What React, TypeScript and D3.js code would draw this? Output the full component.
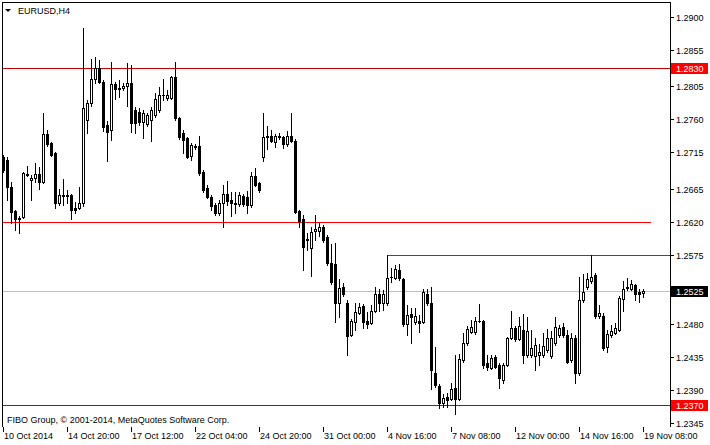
import React from "react";
import * as d3 from "d3";

const openP = [1.2708,1.2704,1.2667,1.2635,1.2624,1.2626,1.2684,1.2677,1.2680,1.2685,1.2674,1.2740,1.2728,1.2714,1.2646,1.2655,1.2655,1.2656,1.2639,1.2639,1.2646,1.2759,1.2782,1.2815,1.2830,1.2811,1.2752,1.2745,1.2808,1.2802,1.2803,1.2805,1.2810,1.2773,1.2770,1.2756,1.2754,1.2759,1.2766,1.2773,1.2793,1.2789,1.2789,1.2818,1.2762,1.2741,1.2734,1.2710,1.2723,1.2723,1.2688,1.2666,1.2654,1.2643,1.2632,1.2646,1.2658,1.2650,1.2646,1.2644,1.2655,1.2654,1.2643,1.2682,1.2673,1.2708,1.2736,1.2737,1.2729,1.2737,1.2736,1.2726,1.2738,1.2730,1.2635,1.2624,1.2595,1.2584,1.2607,1.2607,1.2613,1.2599,1.2564,1.2562,1.2509,1.2531,1.2509,1.2465,1.2483,1.2495,1.2505,1.2484,1.2482,1.2498,1.2521,1.2509,1.2509,1.2544,1.2543,1.2554,1.2542,1.2480,1.2494,1.2483,1.2484,1.2483,1.2522,1.2509,1.2414,1.2395,1.2373,1.2380,1.2378,1.2393,1.2378,1.2431,1.2454,1.2469,1.2469,1.2484,1.2484,1.2427,1.2420,1.2435,1.2424,1.2404,1.2424,1.2461,1.2475,1.2460,1.2472,1.2438,1.2438,1.2436,1.2438,1.2438,1.2445,1.2436,1.2454,1.2465,1.2476,1.2465,1.2431,1.2461,1.2413,1.2513,1.2531,1.2539,1.2547,1.2491,1.2491,1.2449,1.2465,1.2468,1.2472,1.2514,1.2529,1.2528,1.2533,1.2524,1.2523];
const highP = [1.2711,1.2708,1.2674,1.2636,1.2628,1.2688,1.2697,1.2684,1.2700,1.2695,1.2769,1.2745,1.2729,1.2715,1.2665,1.2678,1.2663,1.2658,1.2647,1.2667,1.2885,1.2786,1.2842,1.2845,1.2841,1.2814,1.2758,1.2838,1.2811,1.2814,1.2810,1.2837,1.2834,1.2777,1.2775,1.2773,1.2769,1.2777,1.2796,1.2804,1.2815,1.2800,1.2819,1.2838,1.2763,1.2745,1.2736,1.2728,1.2726,1.2738,1.2691,1.2670,1.2656,1.2646,1.2650,1.2670,1.2676,1.2661,1.2661,1.2661,1.2658,1.2662,1.2688,1.2693,1.2674,1.2769,1.2751,1.2745,1.2740,1.2741,1.2737,1.2744,1.2769,1.2733,1.2636,1.2630,1.2605,1.2613,1.2630,1.2618,1.2615,1.2602,1.2590,1.2591,1.2542,1.2536,1.2513,1.2487,1.2509,1.2509,1.2507,1.2497,1.2506,1.2531,1.2528,1.2527,1.2575,1.2557,1.2561,1.2562,1.2543,1.2506,1.2502,1.2502,1.2492,1.2528,1.2528,1.2531,1.2449,1.2398,1.2384,1.2386,1.2399,1.2438,1.2439,1.2468,1.2477,1.2486,1.2490,1.2507,1.2486,1.2438,1.2438,1.2438,1.2427,1.2427,1.2462,1.2498,1.2477,1.2490,1.2494,1.2490,1.2472,1.2461,1.2453,1.2468,1.2473,1.2471,1.2490,1.2479,1.2482,1.2472,1.2468,1.2465,1.2544,1.2548,1.2550,1.2575,1.2550,1.2506,1.2495,1.2472,1.2479,1.2482,1.2518,1.2539,1.2543,1.2540,1.2535,1.2528,1.2528];
const lowP = [1.2688,1.2650,1.2618,1.2609,1.2605,1.2625,1.2682,1.2650,1.2674,1.2665,1.2673,1.2723,1.2710,1.2639,1.2643,1.2643,1.2646,1.2624,1.2632,1.2637,1.2641,1.2741,1.2779,1.2810,1.2810,1.2744,1.2703,1.2732,1.2788,1.2790,1.2800,1.2778,1.2743,1.2741,1.2752,1.2734,1.2751,1.2730,1.2763,1.2770,1.2786,1.2786,1.2788,1.2759,1.2733,1.2714,1.2707,1.2704,1.2719,1.2684,1.2661,1.2652,1.2636,1.2630,1.2630,1.2613,1.2643,1.2628,1.2632,1.2641,1.2641,1.2632,1.2640,1.2669,1.2661,1.2703,1.2719,1.2729,1.2722,1.2733,1.2721,1.2724,1.2729,1.2632,1.2613,1.2554,1.2581,1.2546,1.2595,1.2600,1.2592,1.2561,1.2535,1.2483,1.2490,1.2518,1.2438,1.2464,1.2472,1.2494,1.2475,1.2475,1.2480,1.2497,1.2498,1.2499,1.2506,1.2538,1.2542,1.2540,1.2477,1.2465,1.2454,1.2480,1.2469,1.2482,1.2506,1.2391,1.2394,1.2365,1.2367,1.2367,1.2376,1.2357,1.2376,1.2428,1.2451,1.2468,1.2466,1.2483,1.2420,1.2417,1.2419,1.2420,1.2393,1.2399,1.2423,1.2460,1.2457,1.2458,1.2427,1.2435,1.2435,1.2417,1.2424,1.2435,1.2442,1.2434,1.2451,1.2462,1.2462,1.2427,1.2428,1.2399,1.2410,1.2510,1.2528,1.2536,1.2488,1.2488,1.2445,1.2442,1.2462,1.2466,1.2471,1.2498,1.2527,1.2527,1.2513,1.2510,1.2517];
const closeP = [1.2691,1.2667,1.2633,1.2624,1.2625,1.2687,1.2685,1.2680,1.2685,1.2674,1.2740,1.2726,1.2711,1.2646,1.2656,1.2657,1.2656,1.2636,1.2636,1.2646,1.2775,1.2782,1.2815,1.2830,1.2811,1.2749,1.2743,1.2808,1.2801,1.2803,1.2805,1.2810,1.2755,1.2755,1.2756,1.2769,1.2766,1.2773,1.2788,1.2793,1.2794,1.2793,1.2818,1.2762,1.2736,1.2732,1.2708,1.2725,1.2722,1.2687,1.2663,1.2654,1.2641,1.2632,1.2646,1.2658,1.2648,1.2646,1.2644,1.2656,1.2644,1.2643,1.2682,1.2670,1.2663,1.2736,1.2737,1.2730,1.2737,1.2736,1.2726,1.2737,1.2730,1.2633,1.2621,1.2585,1.2596,1.2606,1.2610,1.2613,1.2595,1.2564,1.2538,1.2509,1.2529,1.2521,1.2464,1.2484,1.2497,1.2503,1.2483,1.2480,1.2498,1.2522,1.2509,1.2522,1.2543,1.2545,1.2555,1.2543,1.2480,1.2492,1.2490,1.2491,1.2482,1.2524,1.2509,1.2417,1.2397,1.2373,1.2379,1.2376,1.2391,1.2378,1.2432,1.2454,1.2473,1.2476,1.2484,1.2485,1.2424,1.2421,1.2434,1.2421,1.2406,1.2424,1.2461,1.2475,1.2460,1.2477,1.2438,1.2471,1.2447,1.2451,1.2442,1.2450,1.2461,1.2461,1.2476,1.2475,1.2465,1.2428,1.2461,1.2413,1.2513,1.2524,1.2542,1.2544,1.2491,1.2495,1.2447,1.2467,1.2471,1.2475,1.2516,1.2528,1.2531,1.2535,1.2522,1.2521,1.2525];

const timeLabels = ["10 Oct 2014","14 Oct 20:00","17 Oct 12:00","22 Oct 04:00","24 Oct 20:00","31 Oct 00:00","4 Nov 16:00","7 Nov 08:00","12 Nov 00:00","14 Nov 16:00","19 Nov 08:00"];
const labelEvery = 16;
const priceTicks = [1.29,1.2855,1.2805,1.276,1.2715,1.2665,1.262,1.2575,1.253,1.248,1.2435,1.239,1.2345];
const fullLevels = [1.283, 1.237];
const supportLevel = 1.262;
const resistanceLevel = 1.2575;
const resistanceStartBar = 96;
const bidPrice = 1.2525;
const symbolTitle = "EURUSD,H4";
const copyright = "FIBO Group, \u00a9 2001-2014, MetaQuotes Software Corp.";

const FONT = "'Liberation Sans', Arial, sans-serif";

export default function App() {
  const n = openP.length;
  const x = d3.scaleLinear().domain([0, 160]).range([3, 643]);
  const y = d3.scaleLinear().domain([1.2345, 1.29]).range([423, 17]);
  const py = (v: number) => Math.round(y(v));
  const left = 2, top = 2, right = 670, bottom = 427;

  const candles = d3.range(n).map((i) => {
    const c = Math.round(x(i));
    const yo = py(openP[i]), yc = py(closeP[i]), yh = py(highP[i]), yl = py(lowP[i]);
    const t = Math.min(yo, yc), b = Math.max(yo, yc);
    const bull = closeP[i] >= openP[i];
    return (
      <g key={i}>
        <line x1={c + 0.5} x2={c + 0.5} y1={yh} y2={yl + 1} stroke="#000" strokeWidth={1} />
        {bull ? (
          b - t < 1 ? (
            <rect x={c - 1} y={t} width={3} height={1} fill="#000" />
          ) : (
            <rect x={c - 0.5} y={t + 0.5} width={2} height={b - t} fill="#fff" stroke="#000" strokeWidth={1} />
          )
        ) : (
          <rect x={c - 1} y={t} width={3} height={b - t + 1} fill="#000" />
        )}
      </g>
    );
  });

  const box = (v: number, bg: string, key: string) => {
    const yy = py(v);
    return (
      <g key={key}>
        <rect x={671} y={yy - 5} width={37} height={11} fill={bg} />
        <text x={676} y={yy + 4} fontFamily={FONT} fontSize={9} fill="#fff">{v.toFixed(4)}</text>
      </g>
    );
  };

  return (
    <svg width={710} height={445} style={{ position: "absolute", left: 0, top: 0, display: "block", background: "#fff" }}>
      <rect x={0} y={0} width={710} height={445} fill="#fff" />
      {/* frame */}
      <line x1={left} x2={right + 1} y1={top + 0.5} y2={top + 0.5} stroke="#000" />
      <line x1={left + 0.5} x2={left + 0.5} y1={top} y2={bottom} stroke="#000" />
      <line x1={right + 0.5} x2={right + 0.5} y1={top} y2={bottom} stroke="#000" />

      {/* levels */}
      <line x1={left + 1} x2={right} y1={py(bidPrice) + 0.5} y2={py(bidPrice) + 0.5} stroke="#c0c0c0" />
      {fullLevels.map((v) => (
        <line key={v} x1={left + 1} x2={right} y1={py(v) + 0.5} y2={py(v) + 0.5} stroke="#c40000" />
      ))}
      <line x1={left + 1} x2={651} y1={py(supportLevel) + 0.5} y2={py(supportLevel) + 0.5} stroke="#ff0000" />
      <line x1={Math.round(x(resistanceStartBar))} x2={right} y1={py(resistanceLevel) + 0.5} y2={py(resistanceLevel) + 0.5} stroke="#ff0000" />

      {candles}

      {/* price axis */}
      {priceTicks.map((v) => (
        <g key={v}>
          <line x1={right + 1} x2={right + 4} y1={py(v) + 0.5} y2={py(v) + 0.5} stroke="#000" />
          <text x={676} y={py(v) + 4} fontFamily={FONT} fontSize={9} fill="#000">{v.toFixed(4)}</text>
        </g>
      ))}
      {fullLevels.map((v) => box(v, "#ff0000", "l" + v))}
      {box(bidPrice, "#000", "bid")}

      {/* time axis */}
      {timeLabels.map((s, k) => {
        const c = Math.round(x(k * labelEvery));
        return (
          <g key={s}>
            <line x1={c + 0.5} x2={c + 0.5} y1={bottom} y2={bottom + 5} stroke="#000" />
            <text x={c + 1} y={439} fontFamily={FONT} fontSize={9} fill="#000">{s}</text>
          </g>
        );
      })}

      {/* title */}
      <path d="M5,9 L11,9 L8,12 Z" fill="#000" />
      <text x={18} y={14} fontFamily={FONT} fontSize={9} fill="#000">{symbolTitle}</text>
      <text x={7} y={423} fontFamily={FONT} fontSize={9} fill="#000">{copyright}</text>
    </svg>
  );
}
